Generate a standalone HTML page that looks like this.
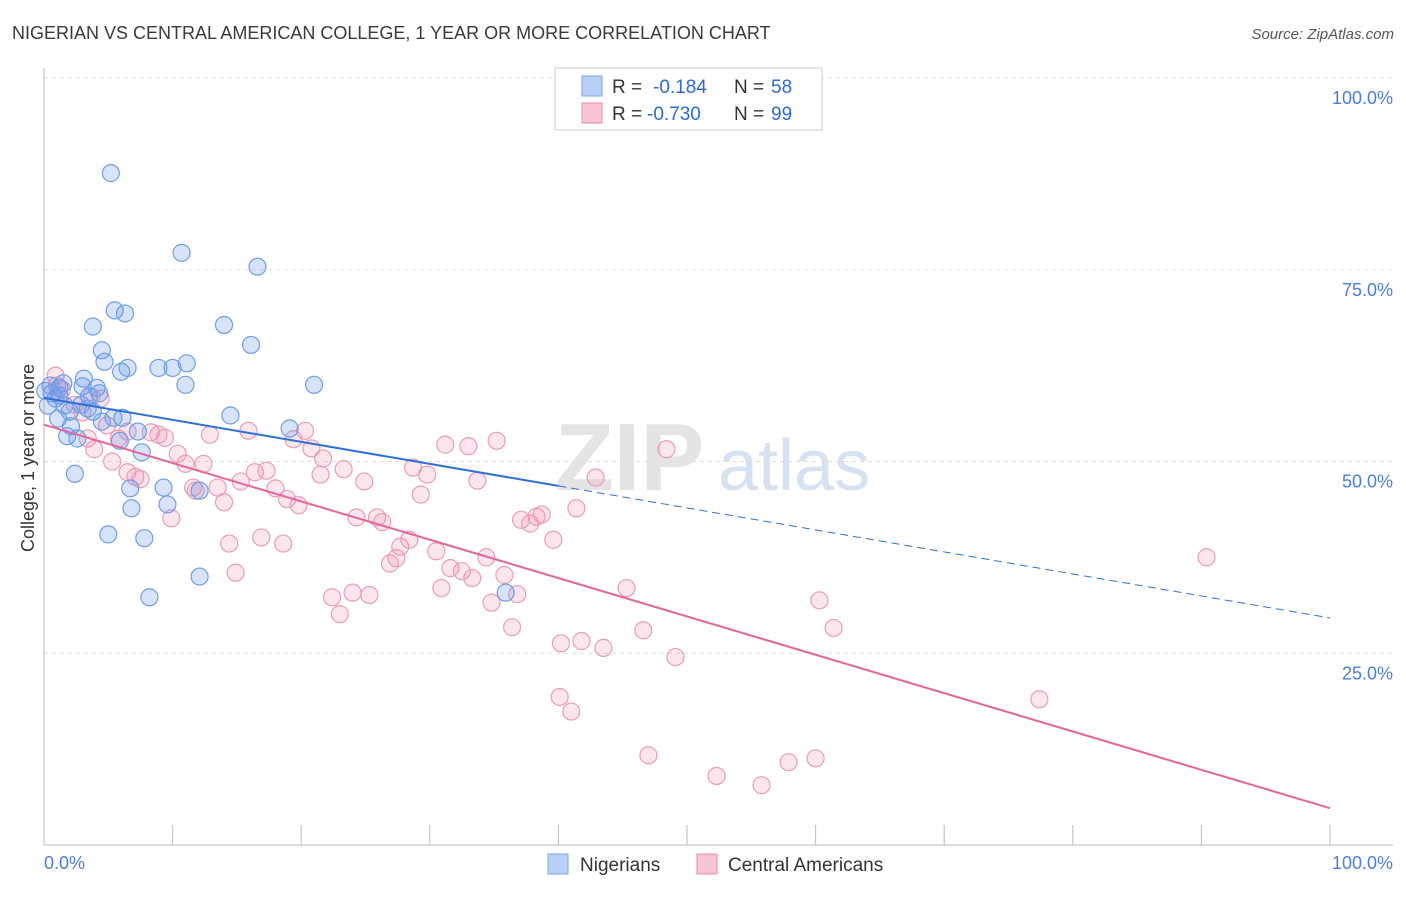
<!DOCTYPE html>
<html><head><meta charset="utf-8">
<style>
body{margin:0;background:#fff;font-family:"Liberation Sans",sans-serif;}
svg text{font-family:"Liberation Sans",sans-serif;}
</style></head>
<body>
<svg id="chart" width="1406" height="892" viewBox="0 0 1406 892" xmlns="http://www.w3.org/2000/svg">
<text x="12" y="39" font-size="18" fill="#3a3a3a">NIGERIAN VS CENTRAL AMERICAN COLLEGE, 1 YEAR OR MORE CORRELATION CHART</text>
<text x="1394" y="39" font-size="15" fill="#555" font-style="italic" text-anchor="end">Source: ZipAtlas.com</text>
<g>
<text x="555" y="490" font-size="96" fill="#e4e4e4" font-family="Liberation Serif" font-weight="bold">ZIP</text>
<text x="718" y="490" font-size="72" fill="#d6e2f2">atlas</text>
</g>
<g id="grid"></g>
<g id="axes"></g>
<g id="marks"></g>
<text x="34" y="458" font-size="18" fill="#333" text-anchor="middle" transform="rotate(-90 34 458)">College, 1 year or more</text>
<g>
<rect x="555" y="68" width="267" height="62" fill="#fff" stroke="#ccc"/>
<rect x="582" y="76" width="20" height="20" fill="#b8d0f5" stroke="#7aa5e6"/>
<text x="612" y="93" font-size="19" fill="#333">R =</text>
<text x="653" y="93" font-size="19" fill="#2a6bd8">-0.184</text>
<text x="734" y="93" font-size="19" fill="#333">N =</text>
<text x="771" y="93" font-size="19" fill="#2a6bd8">58</text>
<rect x="582" y="103" width="20" height="20" fill="#f9c6d6" stroke="#e88aab"/>
<text x="612" y="120" font-size="19" fill="#333">R =</text>
<text x="647" y="120" font-size="19" fill="#2a6bd8">-0.730</text>
<text x="734" y="120" font-size="19" fill="#333">N =</text>
<text x="771" y="120" font-size="19" fill="#2a6bd8">99</text>
</g>
<g>
<rect x="548" y="854" width="20" height="20" fill="#b8d0f5" stroke="#7aa5e6"/>
<text x="580" y="871" font-size="19" fill="#333">Nigerians</text>
<rect x="697" y="854" width="20" height="20" fill="#f9c6d6" stroke="#e88aab"/>
<text x="728" y="871" font-size="19" fill="#333">Central Americans</text>
</g>
</svg>
<script>
const yTicks=[25,50,75,100];
const yTickLabels=["25.0%","50.0%","75.0%","100.0%"];
const xEndLabels=["0.0%","100.0%"];
const nigX=[5.2,10.7,16.6,5.5,6.3,3.8,14.0,16.1,4.5,4.7,6.0,6.5,8.9,10.0,11.1,11.0,21.0,0.5,1.2,3.1,3.0,4.1,4.3,0.6,1.2,1.6,3.4,3.8,5.4,6.1,14.5,19.1,1.8,2.1,2.6,7.3,5.9,7.6,2.4,6.7,9.3,12.1,6.8,9.6,5.0,7.8,12.1,8.2,35.9,0.3,0.9,1.5,2.0,3.5,0.1,4.5,1.1,2.9];
const nigY=[87.6,77.2,75.4,69.7,69.3,67.6,67.8,65.2,64.5,63.0,61.7,62.2,62.2,62.2,62.8,60.0,60.0,59.9,59.6,60.8,59.8,59.6,58.9,58.9,58.6,57.3,56.9,56.5,55.7,55.7,56.0,54.3,53.3,54.6,53.0,53.9,52.7,51.2,48.4,46.5,46.6,46.2,43.9,44.4,40.5,40.0,35.0,32.3,32.9,57.3,58.2,60.2,56.5,58.5,59.2,55.2,55.6,57.4];
const camX=[0.9,1.0,1.4,1.2,3.7,2.4,4.4,3.0,3.4,3.9,4.9,5.8,6.5,5.3,6.5,7.1,7.5,8.3,8.9,9.4,9.9,10.4,11.0,11.6,11.8,12.4,12.9,13.5,14.0,14.4,14.9,15.3,15.9,16.4,16.9,17.3,18.0,18.6,18.9,19.4,19.8,20.3,20.8,21.5,21.7,22.4,23.0,23.3,24.0,24.3,24.9,25.3,25.9,26.3,26.9,27.4,27.7,28.4,28.7,29.3,29.8,30.5,30.9,31.2,31.6,32.5,33.0,33.3,33.7,34.4,34.8,35.2,35.8,36.4,36.8,37.1,37.8,38.3,38.7,39.6,40.1,40.2,41.0,41.4,41.8,42.9,43.5,45.3,46.6,47.0,48.4,49.1,52.3,55.8,57.9,60.0,60.3,61.4,77.4,90.4];
const camY=[61.2,59.9,59.4,58.6,58.5,57.4,58.2,56.4,53.0,51.6,54.7,53.0,53.9,50.0,48.6,48.0,47.7,53.8,53.5,53.1,42.6,51.0,49.7,46.6,46.2,49.7,53.5,46.6,44.7,39.3,35.5,47.4,54.0,48.6,40.1,48.8,46.5,39.3,45.1,52.9,44.3,54.0,51.7,48.3,50.4,32.3,30.1,49.0,32.9,42.7,47.4,32.6,42.7,42.1,36.7,37.4,38.9,39.8,49.2,45.7,48.3,38.3,33.5,52.2,36.1,35.7,52.0,34.8,47.5,37.5,31.6,52.7,35.2,28.4,32.7,42.4,41.9,42.8,43.1,39.8,19.3,26.3,17.4,43.9,26.6,47.9,25.7,33.5,28.0,11.7,51.6,24.5,9.0,7.8,10.8,11.3,31.9,28.3,19.0,37.5];
const nigTrend=[58.3,29.6];
const camTrend=[54.8,4.8];
const nigSolidEnd=40;

const NS="http://www.w3.org/2000/svg";
const X0=44,X1=1330,Y0=845,Y100=78;
function sx(v){return X0+(X1-X0)*v/100;}
function sy(v){return Y0-(Y0-Y100)*v/100;}
function mk(tag,attrs,parent){const e=document.createElementNS(NS,tag);for(const k in attrs)e.setAttribute(k,attrs[k]);parent.appendChild(e);return e;}
const grid=document.getElementById('grid'),axes=document.getElementById('axes'),marks=document.getElementById('marks');
yTicks.forEach((t,i)=>{
  const l=mk('line',{x1:X0,x2:1393,y1:sy(t),y2:sy(t),stroke:'#ddd','stroke-dasharray':'4,4'},grid);
  
  
  const tx=mk('text',{x:1393,y:sy(t)+26,'font-size':18,fill:'#4a7fd6','text-anchor':'end'},axes);
  tx.textContent=yTickLabels[i];
  
  
});
const yax=mk('line',{x1:X0,x2:X0,y1:68,y2:Y0,stroke:'#bbb'},axes);


const xax=mk('line',{x1:X0,x2:1393,y1:Y0,y2:Y0,stroke:'#bbb'},axes);


for(let i=0;i<=10;i++){
  const t=mk('line',{x1:sx(i*10),x2:sx(i*10),y1:Y0,y2:Y0-20,stroke:'#bbb'},axes);
  
  
}
[[0,'start',X0],[1,'end',1393]].forEach(([i,a,x])=>{
  const t=mk('text',{x:x,y:869,'font-size':18,fill:'#4a7fd6','text-anchor':a},axes);
  t.textContent=xEndLabels[i];
  
  
});
camX.forEach((v,i)=>{
  const c=mk('circle',{cx:sx(v),cy:sy(camY[i]),r:8.5,fill:'rgba(240,140,175,0.22)',stroke:'#eb9bb8','stroke-width':1.2},marks);
  
  
});
nigX.forEach((v,i)=>{
  const c=mk('circle',{cx:sx(v),cy:sy(nigY[i]),r:8.5,fill:'rgba(110,155,235,0.28)',stroke:'#6f9ee6','stroke-width':1.2},marks);
  
  
});
function ty(tr,x){return tr[0]+(tr[1]-tr[0])*x/100;}
const l1=mk('line',{x1:sx(0),y1:sy(ty(nigTrend,0)),x2:sx(nigSolidEnd),y2:sy(ty(nigTrend,nigSolidEnd)),stroke:'#2f6fd8','stroke-width':2},marks);


const l2=mk('line',{x1:sx(nigSolidEnd),y1:sy(ty(nigTrend,nigSolidEnd)),x2:sx(100),y2:sy(ty(nigTrend,100)),stroke:'#2f6fd8','stroke-width':1,'stroke-dasharray':'8,5'},marks);


const l3=mk('line',{x1:sx(0),y1:sy(ty(camTrend,0)),x2:sx(100),y2:sy(ty(camTrend,100)),stroke:'#e4659a','stroke-width':2},marks);


</script>
</body></html>
